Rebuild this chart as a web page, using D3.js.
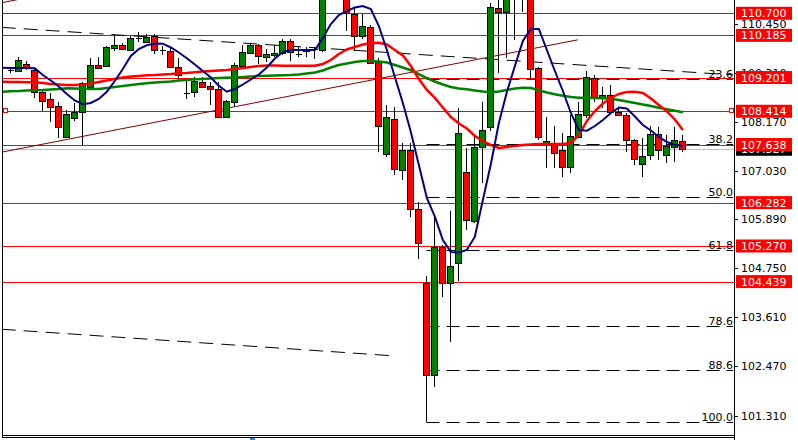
<!DOCTYPE html>
<html><head><meta charset="utf-8">
<script src="https://cdn.jsdelivr.net/npm/d3@7"></script>
<style>
html,body{margin:0;padding:0;background:#fff;}
svg{display:block;font-family:"DejaVu Sans",sans-serif;}
</style></head><body>
<svg id="c" width="798" height="440"></svg>
<script>
// ---- data (prices) ----
const opens = [109.435,109.377,109.353,109.510,109.377,108.856,108.700,108.537,107.806,108.250,
108.404,108.987,109.493,109.477,109.897,109.960,109.843,110.112,110.037,110.177,
109.832,109.820,109.454,108.847,108.856,109.090,109.003,108.926,108.273,108.637,
109.477,109.780,109.960,109.673,109.727,109.766,110.053,109.750,109.813,109.860,
109.843,111.200,111.500,111.127,110.683,110.170,110.387,109.570,107.417,108.227,
107.044,107.510,106.127,104.400,102.261,105.240,104.400,104.867,106.990,105.861,
107.573,108.054,110.816,110.737,111.197,111.360,111.080,109.416,107.643,107.681,
107.510,107.121,107.821,108.320,109.183,108.724,108.794,108.390,108.327,107.744,
107.177,107.394,107.877,107.394,107.573,107.720];
const highs = [109.517,109.447,109.687,109.587,109.416,108.887,108.833,108.637,108.443,108.600,
109.104,109.650,109.687,109.937,110.193,110.000,110.177,110.256,110.217,110.210,
109.937,109.883,109.650,109.143,109.220,109.220,109.104,109.104,108.677,109.540,
109.960,110.000,109.983,109.860,109.960,110.093,110.093,109.906,109.920,109.920,
111.243,111.600,111.620,111.290,110.854,110.683,110.427,109.650,108.560,108.507,
107.681,107.674,106.304,104.570,105.954,105.294,106.094,108.483,107.550,107.860,
108.637,110.933,111.057,111.150,111.643,111.593,111.197,109.454,108.287,108.070,
107.907,108.327,108.637,109.353,109.260,108.987,109.027,108.520,108.374,107.767,
107.790,108.070,108.054,107.860,108.054,107.860];
const lows = [109.353,109.307,109.337,109.377,108.730,108.420,108.170,107.797,107.783,108.187,
107.627,108.980,109.423,109.470,109.820,109.843,109.820,110.037,110.030,109.743,
109.727,109.447,109.143,108.700,108.754,108.950,108.560,108.257,108.257,108.520,
109.470,109.773,109.510,109.570,109.687,109.727,109.594,109.673,109.687,109.626,
109.804,111.100,111.150,110.294,109.843,110.093,109.517,107.471,107.340,106.927,
106.810,105.940,104.960,101.171,101.974,104.073,103.038,104.461,105.644,105.800,
106.733,107.961,109.300,109.650,110.077,110.730,109.183,107.744,107.083,107.090,
106.887,106.967,107.806,108.250,108.637,108.483,108.367,108.304,107.471,107.160,
106.887,107.277,107.277,107.200,107.237,107.471];
const closes = [109.435,109.377,109.610,109.416,108.856,108.653,108.520,108.047,108.343,108.404,
109.066,109.493,109.430,109.920,109.960,109.867,110.116,110.112,110.154,109.843,
109.832,109.454,109.260,108.847,109.120,108.987,108.934,108.273,108.653,109.493,
109.804,109.960,109.710,109.750,109.780,110.053,109.790,109.750,109.860,109.860,
111.197,111.500,111.300,110.700,110.170,110.403,109.547,108.070,108.273,107.060,
107.510,106.127,105.333,102.261,105.240,104.400,104.811,107.900,105.877,107.587,
107.977,110.840,110.737,111.080,111.360,111.197,109.393,107.806,107.720,107.433,
107.121,107.837,108.343,109.206,108.740,108.794,108.404,108.327,107.744,107.293,
107.377,107.877,107.510,107.604,107.744,107.527];

const maFast = [109.430,109.423,109.423,109.423,109.416,109.260,109.132,108.992,108.817,108.665,
108.577,108.607,108.700,108.870,109.120,109.400,109.703,109.867,109.953,109.995,
109.990,109.902,109.785,109.650,109.505,109.353,109.202,109.010,108.870,108.934,
109.038,109.155,109.272,109.435,109.645,109.797,109.843,109.843,109.843,109.843,
110.123,110.450,110.660,110.753,110.835,110.870,110.800,110.403,109.843,109.213,
108.607,107.930,107.160,106.390,105.954,105.410,105.130,105.119,105.177,105.487,
106.344,107.184,108.140,108.864,109.470,110.053,110.333,110.333,109.843,109.353,
108.887,108.374,107.977,107.961,108.070,108.210,108.374,108.502,108.479,108.292,
108.094,107.965,107.814,107.697,107.627,107.604];
const maMid = [109.104,109.097,109.097,109.090,109.090,109.073,109.050,109.038,109.027,109.027,
109.038,109.062,109.097,109.132,109.167,109.202,109.225,109.237,109.253,109.260,
109.272,109.283,109.300,109.307,109.323,109.342,109.353,109.365,109.377,109.400,
109.423,109.447,109.470,109.482,109.482,109.477,109.477,109.477,109.477,109.477,
109.517,109.610,109.750,109.855,109.913,109.972,110.007,110.014,109.972,109.843,
109.715,109.470,109.167,108.910,108.724,108.502,108.280,108.129,108.012,107.837,
107.720,107.627,107.557,107.580,107.604,107.627,107.639,107.650,107.650,107.650,
107.650,107.674,107.860,108.187,108.420,108.595,108.724,108.817,108.864,108.870,
108.840,108.712,108.560,108.409,108.222,107.977];
const maSlow = [108.870,108.880,108.887,108.899,108.906,108.910,108.922,108.934,108.950,108.945,
108.941,108.934,108.934,108.957,108.980,109.003,109.027,109.050,109.066,109.085,
109.097,109.108,109.132,109.143,109.160,109.167,109.178,109.190,109.197,109.206,
109.213,109.225,109.237,109.241,109.248,109.253,109.260,109.272,109.295,109.318,
109.365,109.435,109.493,109.528,109.563,109.587,109.587,109.575,109.552,109.493,
109.435,109.370,109.283,109.190,109.108,109.038,108.980,108.945,108.926,108.899,
108.875,108.856,108.875,108.910,108.945,108.964,108.957,108.903,108.852,108.810,
108.775,108.747,108.730,108.728,108.724,108.719,108.705,108.677,108.642,108.607,
108.572,108.537,108.497,108.460,108.427,108.390];

const levelPrices = [110.700,110.185,109.201,108.414,107.638,106.282,105.270,104.439];
const selectedLevel = 108.414;
const tickValues = [110.450,109.310,108.170,107.030,105.890,104.750,103.610,102.470,101.310];
const fibLevels = [23.6,38.2,50.0,61.8,78.6,88.6,100.0];
const fibLowIndex = 53, fibHighIndex = 64;
// trend lines as [startIndex, startPrice, endIndex, endPrice]
const dashedTrend = [[-0.2,110.371,91.2,109.262],[-0.2,103.327,49,102.704]];
const solidTrend = [[-0.4,107.452,71.8,110.081],[-0.4,110.940,8,111.243]];

// ---- layout ----
const svg = d3.select('#c');
const plotL = 2, plotR = 734, plotT = 0, plotB = 435;
const x = d3.scaleLinear().domain([0, 91.2]).range([3.3, 733]);
const y = d3.scaleLinear().domain([101.31, 110.45]).range([415.7, 24]);

svg.append('defs').append('clipPath').attr('id','clip')
  .append('rect').attr('x',plotL).attr('y',plotT).attr('width',plotR-plotL).attr('height',plotB-plotT);
const g = svg.append('g').attr('clip-path','url(#clip)');

// bid line
const lastClose = closes[closes.length-1];
g.append('line').attr('x1',plotL).attr('x2',plotR)
  .attr('y1',Math.round(y(lastClose))+0.5).attr('y2',Math.round(y(lastClose))+0.5)
  .attr('stroke','#c0c0c0').attr('stroke-width',1);

// horizontal red levels
g.selectAll('line.lvl').data(levelPrices).enter().append('line')
  .attr('x1',plotL).attr('x2',plotR)
  .attr('y1',d=>Math.round(y(d))+0.5).attr('y2',d=>Math.round(y(d))+0.5)
  .attr('stroke','#ff0000').attr('stroke-width',1);

// trend lines
dashedTrend.forEach(t=>{
  g.append('line').attr('x1',x(t[0])).attr('y1',y(t[1])).attr('x2',x(t[2])).attr('y2',y(t[3]))
   .attr('stroke','#000').attr('stroke-width',1).attr('stroke-dasharray','14,8');
});
solidTrend.forEach(t=>{
  g.append('line').attr('x1',x(t[0])).attr('y1',y(t[1])).attr('x2',x(t[2])).attr('y2',y(t[3]))
   .attr('stroke','#800000').attr('stroke-width',1);
});

// fibonacci
const fLow = lows[fibLowIndex], fHigh = highs[fibHighIndex];
const fibX0 = Math.round(x(fibLowIndex))-0.5;
fibLevels.forEach(l=>{
  const p = fHigh - (fHigh - fLow)*l/100;
  const yy = Math.round(y(p))+0.5;
  g.append('line').attr('x1',fibX0).attr('x2',plotR-1).attr('y1',yy).attr('y2',yy)
   .attr('stroke','#000').attr('stroke-width',1).attr('stroke-dasharray','13,7');
  svg.append('text').attr('x',plotR-1).attr('y',yy-2).attr('text-anchor','end')
   .attr('font-size',11).attr('fill','#000').text(l.toFixed(1));
});

// candles
const candles = opens.map((o,i)=>({i,o,h:highs[i],l:lows[i],c:closes[i]}));
const cg = g.append('g').attr('shape-rendering','crispEdges');
candles.forEach(d=>{
  const cx = Math.round(x(d.i));
  cg.append('line').attr('x1',cx-0.5).attr('x2',cx-0.5).attr('y1',y(d.h)).attr('y2',y(d.l))
    .attr('stroke','#000').attr('stroke-width',1);
  if (Math.abs(d.o-d.c) < 0.005) {
    const yy = Math.round(y(d.o))+0.5;
    cg.append('line').attr('x1',cx-3).attr('x2',cx+3).attr('y1',yy).attr('y2',yy)
      .attr('stroke','#000').attr('stroke-width',1);
  } else {
    const top = Math.round(y(Math.max(d.o,d.c)))+0.5;
    const bot = Math.round(y(Math.min(d.o,d.c)))+0.5;
    cg.append('rect').attr('x',cx-3.5).attr('y',top).attr('width',6).attr('height',Math.max(1,bot-top))
      .attr('fill', d.c>d.o ? '#008000' : '#ff0000').attr('stroke','#000').attr('stroke-width',1);
  }
});

// moving averages
const line = d3.line().x((d,i)=>x(i)-0.5).y(d=>y(d));
g.append('path').attr('d',line(maSlow)).attr('fill','none').attr('stroke','#008000').attr('stroke-width',2.5);
g.append('path').attr('d',line(maMid)).attr('fill','none').attr('stroke','#ff0000').attr('stroke-width',2.5);
g.append('path').attr('d',line(maFast)).attr('fill','none').attr('stroke','#000080').attr('stroke-width',2);

// selected level anchors
const sy = Math.round(y(selectedLevel));
[[3,sy-2],[729,sy-2]].forEach(p=>{
  svg.append('rect').attr('x',p[0]+0.5).attr('y',p[1]-0.5).attr('width',4).attr('height',4)
    .attr('fill','#fff').attr('stroke','#ff0000').attr('stroke-width',1);
});

// frame
const fr = svg.append('g').attr('shape-rendering','crispEdges');
fr.append('line').attr('x1',2.5).attr('x2',2.5).attr('y1',0).attr('y2',437).attr('stroke','#000');
fr.append('line').attr('x1',734.5).attr('x2',734.5).attr('y1',0).attr('y2',440).attr('stroke','#000');
fr.append('line').attr('x1',2).attr('x2',735).attr('y1',435.5).attr('y2',435.5).attr('stroke','#000');
fr.append('line').attr('x1',2).attr('x2',735).attr('y1',437.5).attr('y2',437.5).attr('stroke','#000');
fr.append('rect').attr('x',250).attr('y',438).attr('width',5).attr('height',2).attr('fill','#3a7fd0');

// right axis
const axis = d3.axisRight(y).tickValues(tickValues).tickFormat(d3.format('.3f')).tickSize(4).tickPadding(3);
const ag = svg.append('g').attr('transform','translate(734,0)').call(axis);
ag.select('.domain').remove();
ag.selectAll('text').attr('font-size',11).attr('font-family','DejaVu Sans').attr('fill','#000');
ag.selectAll('line').attr('stroke','#000').attr('shape-rendering','crispEdges');

// current price label
const lg = svg.append('g');
const by = y(lastClose);
lg.append('rect').attr('x',736).attr('y',by-6.5).attr('width',56).attr('height',13).attr('fill','#000');
lg.append('text').attr('x',741).attr('y',by+4).attr('font-size',11).attr('fill','#fff').text(lastClose.toFixed(3));
// level labels
levelPrices.forEach(p=>{
  const yy = y(p);
  lg.append('rect').attr('x',736).attr('y',yy-6.5).attr('width',56).attr('height',13).attr('fill','#ff0000');
  lg.append('text').attr('x',741).attr('y',yy+4).attr('font-size',11).attr('fill','#fff').text(p.toFixed(3));
});
</script>
</body></html>
